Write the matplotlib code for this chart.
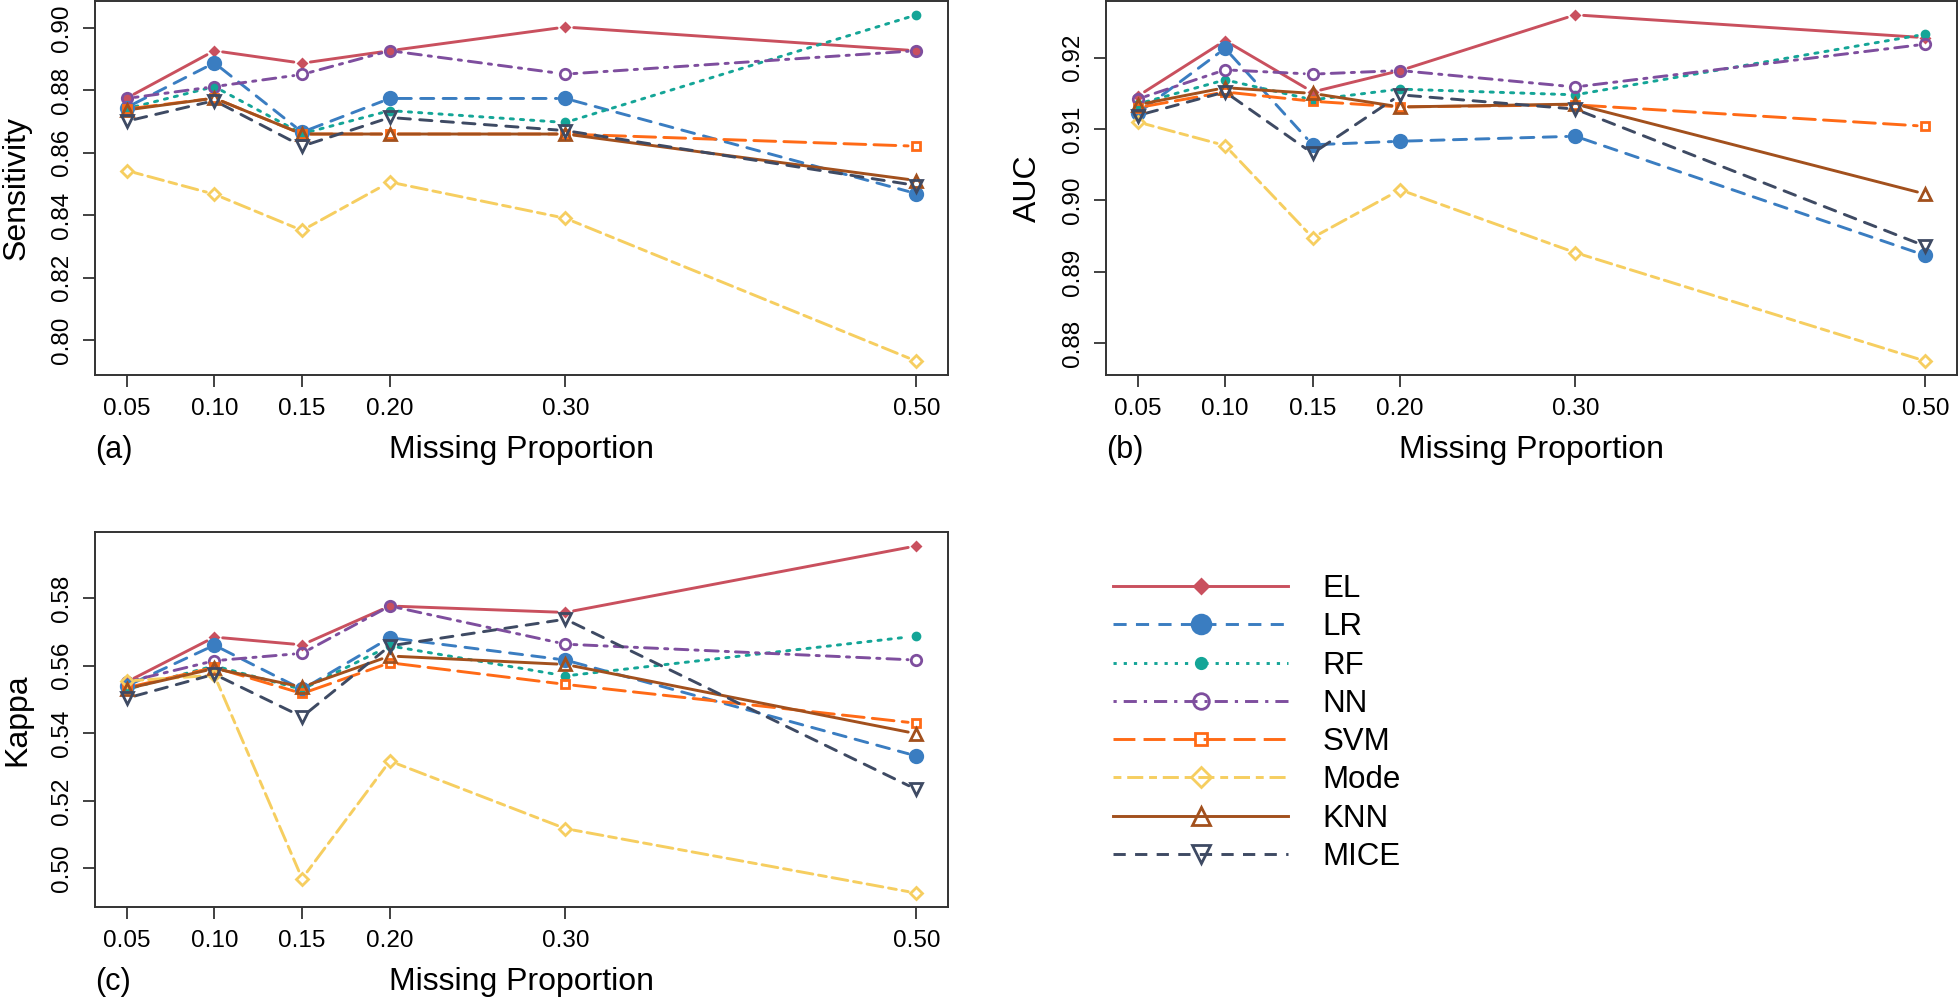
import matplotlib
matplotlib.use("Agg")
import matplotlib.pyplot as plt
from matplotlib.lines import Line2D

plt.rcParams['font.family'] = ['Liberation Sans', 'DejaVu Sans']

proportions = [0.05, 0.10, 0.15, 0.20, 0.30, 0.50]
tick_labels = ["0.05", "0.10", "0.15", "0.20", "0.30", "0.50"]
methods = ["EL", "LR", "RF", "NN", "SVM", "Mode", "KNN", "MICE"]

sens_EL = [0.8775, 0.8927, 0.8887, 0.8927, 0.9003, 0.8927]
sens_LR = [0.8745, 0.8888, 0.8666, 0.8774, 0.8774, 0.8469]
sens_RF = [0.8741, 0.8812, 0.8661, 0.8735, 0.8697, 0.9042]
sens_NN = [0.8774, 0.8812, 0.8851, 0.8927, 0.8852, 0.8927]
sens_SVM = [0.8740, 0.8775, 0.8660, 0.8660, 0.8660, 0.8621]
sens_Mode = [0.8543, 0.8467, 0.8351, 0.8506, 0.8390, 0.7932]
sens_KNN = [0.8737, 0.8775, 0.8660, 0.8660, 0.8660, 0.8511]
sens_MICE = [0.8701, 0.8767, 0.8621, 0.8713, 0.8671, 0.8495]

auc_EL = [0.9146, 0.9224, 0.9152, 0.9182, 0.9260, 0.9228]
auc_LR = [0.9122, 0.9213, 0.9078, 0.9083, 0.9090, 0.8923]
auc_RF = [0.9135, 0.9169, 0.9141, 0.9156, 0.9148, 0.9233]
auc_NN = [0.9142, 0.9183, 0.9177, 0.9182, 0.9159, 0.9219]
auc_SVM = [0.9130, 0.9152, 0.9139, 0.9131, 0.9134, 0.9104]
auc_Mode = [0.9110, 0.9077, 0.8948, 0.9015, 0.8927, 0.8775]
auc_KNN = [0.9134, 0.9158, 0.9150, 0.9131, 0.9135, 0.9009]
auc_MICE = [0.9119, 0.9152, 0.9066, 0.9148, 0.9128, 0.8936]

kappa_EL = [0.5552, 0.5685, 0.5662, 0.5777, 0.5758, 0.5955]
kappa_LR = [0.5540, 0.5661, 0.5530, 0.5683, 0.5617, 0.5333]
kappa_RF = [0.5530, 0.5600, 0.5530, 0.5659, 0.5570, 0.5688]
kappa_NN = [0.5552, 0.5615, 0.5637, 0.5777, 0.5664, 0.5617]
kappa_SVM = [0.5535, 0.5595, 0.5518, 0.5609, 0.5545, 0.5430]
kappa_Mode = [0.5555, 0.5572, 0.4970, 0.5318, 0.5118, 0.4927]
kappa_KNN = [0.5532, 0.5592, 0.5537, 0.5629, 0.5604, 0.5399]
kappa_MICE = [0.5504, 0.5575, 0.5449, 0.5659, 0.5738, 0.5234]

sens = [sens_EL, sens_LR, sens_RF, sens_NN, sens_SVM, sens_Mode, sens_KNN, sens_MICE]
auc = [auc_EL, auc_LR, auc_RF, auc_NN, auc_SVM, auc_Mode, auc_KNN, auc_MICE]
kappa = [kappa_EL, kappa_LR, kappa_RF, kappa_NN, kappa_SVM, kappa_Mode, kappa_KNN, kappa_MICE]

sens_ticks = [0.80, 0.82, 0.84, 0.86, 0.88, 0.90]
auc_ticks = [0.88, 0.89, 0.90, 0.91, 0.92]
kappa_ticks = [0.50, 0.52, 0.54, 0.56, 0.58]

colors = ['#C9505E', '#3A7DC1', '#14A597', '#7E4E9E', '#FF6A16', '#F6CE60', '#A2501D', '#3E4A63']
LW = 2.1
styles = [
    dict(ls='-', marker='D', ms=4.5, mfc='fill'),
    dict(ls=(0, (4.5, 3.2)), marker='o', ms=9, mfc='fill'),
    dict(ls=(0, (1.1, 2.4)), marker='o', ms=5, mfc='fill'),
    dict(ls=(0, (1.1, 2.4, 4.5, 2.4)), marker='o', ms=7.5, mfc='none'),
    dict(ls=(0, (7.5, 2.8)), marker='s', ms=6, mfc='none'),
    dict(ls=(0, (2.7, 2.0, 5.5, 2.0)), marker='D', ms=6.5, mfc='none'),
    dict(ls='-', marker='^', ms=9, mfc='none'),
    dict(ls=(0, (4.2, 3.2)), marker='v', ms=9, mfc='none'),
]
GAP = 6.0  # points of line gap around each point (type = "b")

W, H = 1960, 1000
fig = plt.figure(figsize=(W / 100, H / 100), dpi=100)

def add_ax(l, r, t, b):
    return fig.add_axes([l / W, 1 - b / H, (r - l) / W, (b - t) / H])

ax_a = add_ax(95, 948, 1, 375)
ax_b = add_ax(1106, 1957, 1, 375)
ax_c = add_ax(95, 948, 532, 907)

panels = [(ax_a, sens, sens_ticks, "Sensitivity", "(a)"),
          (ax_b, auc, auc_ticks, "AUC", "(b)"),
          (ax_c, kappa, kappa_ticks, "Kappa", "(c)")]

for ax, data, yt, ylab, tag in panels:
    for vals, c, st in zip(data, colors, styles):
        mfc = c if st['mfc'] == 'fill' else 'none'
        ax.plot(proportions, vals, ls='none', marker=st['marker'], ms=st['ms'],
                mfc=mfc, mec=c, mew=2.0, zorder=3)
    ax.margins(x=0.04, y=0.04)
    ax.autoscale_view()
    xl = ax.get_xlim()
    yl = ax.get_ylim()
    for vals, c, st in zip(data, colors, styles):
        for i in range(len(proportions) - 1):
            ax.annotate('', xy=(proportions[i + 1], vals[i + 1]),
                        xytext=(proportions[i], vals[i]),
                        arrowprops=dict(arrowstyle='-', color=c, lw=LW,
                                        linestyle=st['ls'], shrinkA=GAP, shrinkB=GAP),
                        zorder=2)
    ax.set_xlim(xl)
    ax.set_ylim(yl)
    ax.set_xticks(proportions)
    ax.set_xticklabels(tick_labels)
    ax.set_yticks(yt)
    ax.set_yticklabels([f"{v:.2f}" for v in yt], rotation=90, va='center')
    ax.tick_params(axis='both', direction='out', length=8.6, width=1.3,
                   color='#333333', labelsize=17.5, pad=7)
    ax.tick_params(axis='x', pad=8)
    for sp in ax.spines.values():
        sp.set_color('#333333')
        sp.set_linewidth(1.4)
    ax.set_ylabel(ylab, fontsize=23, labelpad=14)
    ax.text(0.5, -0.2, "Missing Proportion", transform=ax.transAxes,
            ha='center', va='center', fontsize=23)
    ax.text(0.0, -0.2, tag, transform=ax.transAxes,
            ha='left', va='center', fontsize=22)

handles = []
for c, st in zip(colors, styles):
    mfc = c if st['mfc'] == 'fill' else 'none'
    handles.append(Line2D([], [], color=c, ls=st['ls'], lw=LW,
                          marker=st['marker'], ms=st['ms'] * 1.5, mfc=mfc,
                          mec=c, mew=2.0))
fig.legend(handles, methods, loc='upper left', bbox_to_anchor=(1113 / W, 1 - 574 / H),
           frameon=False, fontsize=22.5, handlelength=5.6, handletextpad=1.1,
           labelspacing=0.265, borderpad=0, borderaxespad=0)

fig.savefig("out.png", dpi=100)
